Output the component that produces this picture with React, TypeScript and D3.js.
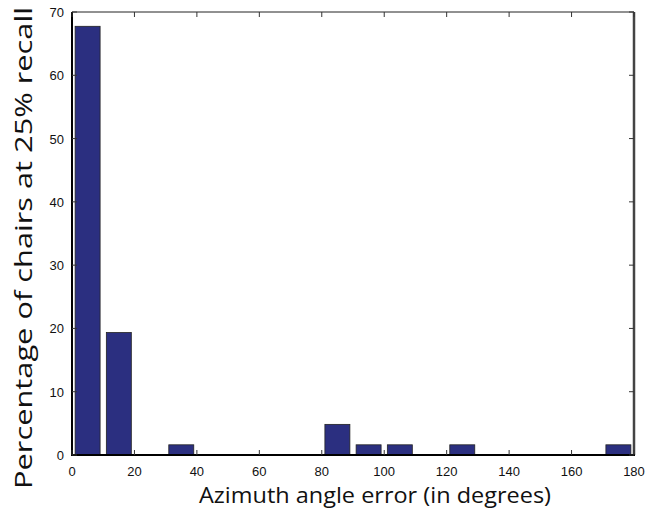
import React from "react";
import * as d3 from "d3";

const binCenters = [5, 15, 25, 35, 45, 55, 65, 75, 85, 95, 105, 115, 125, 135, 145, 155, 165, 175];
const percentages = [67.74, 19.35, 0, 1.61, 0, 0, 0, 0, 4.84, 1.61, 1.61, 0, 1.61, 0, 0, 0, 0, 1.61];
const xTicks = [0, 20, 40, 60, 80, 100, 120, 140, 160, 180];
const yTicks = [0, 10, 20, 30, 40, 50, 60, 70];
const xLabel = "Azimuth angle error (in degrees)";
const yLabel = "Percentage of chairs at 25% recall";

const W = 649, H = 510;
const left = 72, right = 634, top = 12, bottom = 455;

export default function App() {
  const x = d3.scaleLinear().domain([0, 180]).range([left, right]);
  const y = d3.scaleLinear().domain([0, 70]).range([bottom, top]);
  const barW = 8;
  const tick = 5;
  return (
    <svg width={W} height={H} style={{ position: "absolute", left: 0, top: 0 }}>
      <rect x={0} y={0} width={W} height={H} fill="#fff" />
      {binCenters.map((c, i) =>
        percentages[i] > 0 ? (
          <rect key={i} x={x(c - barW / 2)} y={y(percentages[i])}
            width={x(c + barW / 2) - x(c - barW / 2)} height={y(0) - y(percentages[i])}
            fill="#2b2f80" stroke="#222" strokeWidth={0.8} />
        ) : null
      )}
      <line x1={left} x2={right} y1={top} y2={top} stroke="#222" strokeWidth={1} />
      <line x1={right} x2={right} y1={top} y2={bottom} stroke="#444" strokeWidth={2.5} />
      <line x1={left} x2={right + 1} y1={bottom} y2={bottom} stroke="#000" strokeWidth={2} />
      <line x1={left} x2={left} y1={top} y2={bottom + 1} stroke="#000" strokeWidth={2} />
      {xTicks.map((t) => (
        <g key={"x" + t}>
          <line x1={x(t)} x2={x(t)} y1={bottom} y2={bottom - tick} stroke="#333" strokeWidth={1} />
          <line x1={x(t)} x2={x(t)} y1={top} y2={top + tick} stroke="#333" strokeWidth={1} />
          <text x={x(t)} y={476} textAnchor="middle" fontFamily="Liberation Sans, Arial, sans-serif" fontSize={13} fill="#111">{t}</text>
        </g>
      ))}
      {yTicks.map((t) => (
        <g key={"y" + t}>
          <line x1={left} x2={left + tick} y1={y(t)} y2={y(t)} stroke="#333" strokeWidth={1} />
          <line x1={right} x2={right - tick} y1={y(t)} y2={y(t)} stroke="#333" strokeWidth={1} />
          <text x={64} y={y(t) + 5} textAnchor="end" fontFamily="Liberation Sans, Arial, sans-serif" fontSize={13} fill="#111">{t}</text>
        </g>
      ))}
      <text x={375} y={503} textAnchor="middle" fontFamily="Open Sans, sans-serif" fontSize={22}
        textLength={352} lengthAdjust="spacingAndGlyphs" fill="#111">{xLabel}</text>
      <text transform={`translate(32,${248}) rotate(-90)`} textAnchor="middle" fontFamily="Open Sans, sans-serif" fontSize={24}
        textLength={482} lengthAdjust="spacingAndGlyphs" fill="#111">{yLabel}</text>
    </svg>
  );
}
